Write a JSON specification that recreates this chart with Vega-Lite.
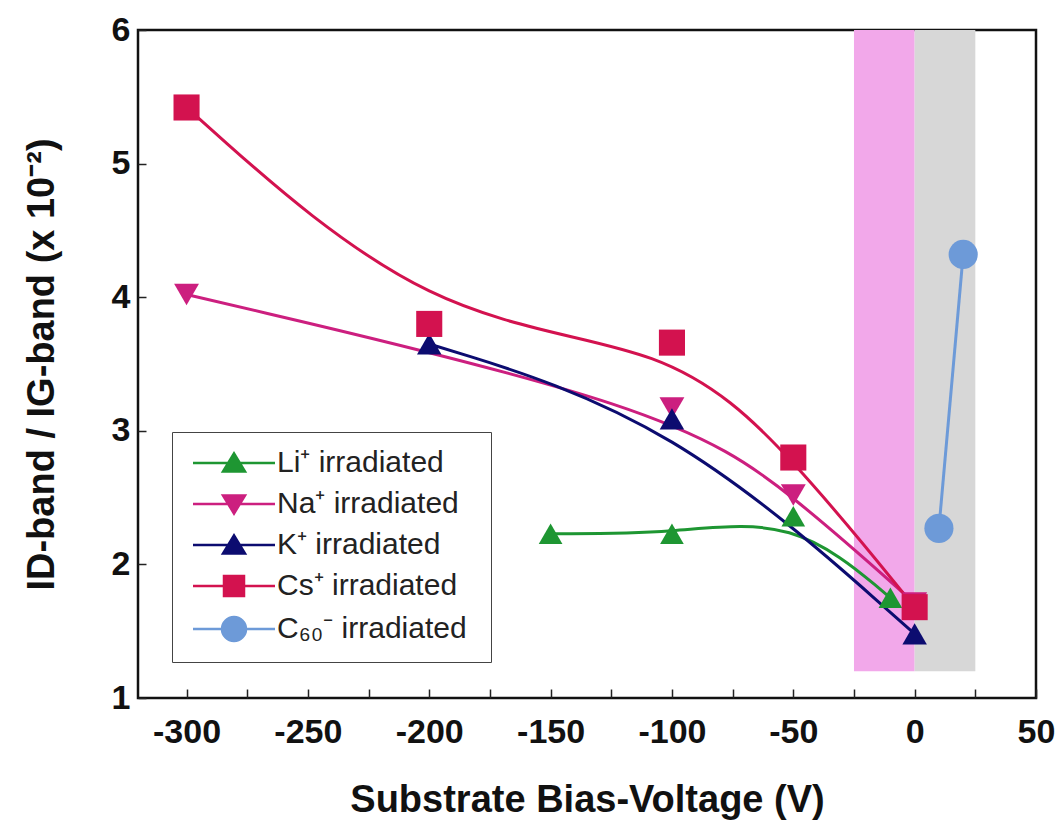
{
  "$schema": "https://vega.github.io/schema/vega-lite/v6.json",
  "width": 898,
  "height": 668,
  "autosize": {"type": "none"},
  "padding": {"left": 138, "top": 30, "right": 23, "bottom": 125},
  "background": "#ffffff",
  "config": {
    "view": {"stroke": "#111111", "strokeWidth": 2.5},
    "font": "Liberation Sans"
  },
  "datasets": {
    "points": [
      {"series": "Li", "v": -150, "r": 2.23},
      {"series": "Li", "v": -100, "r": 2.23},
      {"series": "Li", "v": -50, "r": 2.36},
      {"series": "Li", "v": -10, "r": 1.75},
      {"series": "Na", "v": -300, "r": 4.02},
      {"series": "Na", "v": -100, "r": 3.17},
      {"series": "Na", "v": -50, "r": 2.52},
      {"series": "Na", "v": 0, "r": 1.71},
      {"series": "K", "v": -200, "r": 3.65},
      {"series": "K", "v": -100, "r": 3.09},
      {"series": "K", "v": 0, "r": 1.48},
      {"series": "Cs", "v": -300, "r": 5.42},
      {"series": "Cs", "v": -200, "r": 3.8},
      {"series": "Cs", "v": -100, "r": 3.66},
      {"series": "Cs", "v": -50, "r": 2.8},
      {"series": "Cs", "v": 0, "r": 1.68},
      {"series": "C60", "v": 10, "r": 2.27},
      {"series": "C60", "v": 20, "r": 4.32}
    ],
    "bands": [
      {"band": "pink", "v0": -25, "v1": 0, "r0": 1.2, "r1": 6},
      {"band": "gray", "v0": 0, "v1": 25, "r0": 1.2, "r1": 6}
    ]
  },
  "encoding": {
    "x": {
      "field": "v", "type": "quantitative", "title": "Substrate Bias-Voltage (V)",
      "scale": {"domain": [-320, 50], "nice": false, "zero": false},
      "axis": {
        "values": [-300, -275, -250, -225, -200, -175, -150, -125, -100, -75, -50, -25, 0, 25, 50],
        "labelExpr": "datum.value % 50 === 0 ? toString(datum.value) : ''",
        "grid": false, "domain": false, "tickSize": -9, "tickWidth": 1.5, "tickColor": "#222",
        "labelFontSize": 34, "labelFontWeight": "bold", "labelColor": "#111", "labelPadding": 26,
        "labelFont": "Liberation Sans", "labelFlush": false, "labelOverlap": false,
        "titleFontSize": 38, "titleFontWeight": "bold", "titleColor": "#111", "titleFont": "Liberation Sans",
        "titleY": 102, "titleBaseline": "middle"
      }
    },
    "y": {
      "field": "r", "type": "quantitative", "title": "ID-band / IG-band (x 10⁻²)",
      "scale": {"domain": [1, 6], "nice": false, "zero": false},
      "axis": {
        "values": [1, 2, 3, 4, 5, 6],
        "grid": false, "domain": false, "tickSize": -8, "tickWidth": 1.5, "tickColor": "#222",
        "labelFontSize": 34, "labelFontWeight": "bold", "labelColor": "#111", "labelPadding": 16,
        "labelFont": "Liberation Sans", "labelFlush": false, "labelOverlap": false,
        "titleFontSize": 38, "titleFontWeight": "bold", "titleColor": "#111", "titleFont": "Liberation Sans",
        "titleX": -96, "titleBaseline": "middle"
      }
    }
  },
  "layer": [
    {
      "data": {"name": "bands"},
      "mark": {"type": "rect"},
      "encoding": {
        "x": {"field": "v0", "type": "quantitative", "title": "Substrate Bias-Voltage (V)"},
        "x2": {"field": "v1"},
        "y": {"field": "r0", "type": "quantitative", "title": "ID-band / IG-band (x 10⁻²)"},
        "y2": {"field": "r1"},
        "color": {"field": "band", "type": "nominal", "scale": {"domain": ["Li", "Na", "K", "Cs", "C60", "pink", "gray"], "range": ["#1e9632", "#cc1f7f", "#0c0c70", "#d3124f", "#6d9ad8", "#f2a8ea", "#d7d7d7"]}, "legend": null}
      }
    },
    {
      "data": {"name": "points"},
      "mark": {"type": "line", "interpolate": "basis", "strokeWidth": 3},
      "encoding": {
        "color": {"field": "series", "type": "nominal", "scale": {"domain": ["Li", "Na", "K", "Cs", "C60", "pink", "gray"], "range": ["#1e9632", "#cc1f7f", "#0c0c70", "#d3124f", "#6d9ad8", "#f2a8ea", "#d7d7d7"]}, "legend": null},
        "detail": {"field": "series"}
      }
    },
    {
      "data": {"name": "points"},
      "transform": [{"filter": "datum.series === 'Li'"}],
      "mark": {"type": "point", "shape": "triangle-up", "filled": true, "opacity": 1, "size": 560},
      "encoding": {"color": {"field": "series", "type": "nominal", "legend": null}}
    },
    {
      "data": {"name": "points"},
      "transform": [{"filter": "datum.series === 'Na'"}],
      "mark": {"type": "point", "shape": "triangle-down", "filled": true, "opacity": 1, "size": 620},
      "encoding": {"color": {"field": "series", "type": "nominal", "legend": null}}
    },
    {
      "data": {"name": "points"},
      "transform": [{"filter": "datum.series === 'K'"}],
      "mark": {"type": "point", "shape": "triangle-up", "filled": true, "opacity": 1, "size": 600},
      "encoding": {"color": {"field": "series", "type": "nominal", "legend": null}}
    },
    {
      "data": {"name": "points"},
      "transform": [{"filter": "datum.series === 'Cs'"}],
      "mark": {"type": "point", "shape": "square", "filled": true, "opacity": 1, "size": 680},
      "encoding": {"color": {"field": "series", "type": "nominal", "legend": null}}
    },
    {
      "data": {"name": "points"},
      "transform": [{"filter": "datum.series === 'C60'"}],
      "mark": {"type": "point", "shape": "circle", "filled": true, "opacity": 1, "size": 850},
      "encoding": {"color": {"field": "series", "type": "nominal", "legend": null}}
    },
    {
      "data": {"name": "points"},
      "mark": {"type": "point", "filled": true, "opacity": 0, "size": 400},
      "encoding": {
        "fill": {
          "field": "series", "type": "nominal", "title": null,
          "scale": {"domain": ["Li", "Na", "K", "Cs", "C60"], "range": ["#1e9632", "#cc1f7f", "#0c0c70", "#d3124f", "#6d9ad8"]},
          "legend": {
            "orient": "none", "legendX": 34, "legendY": 402, "direction": "vertical",
            "padding": 16, "strokeColor": "#444", "fillColor": "#ffffff",
            "symbolSize": 400, "symbolStrokeWidth": 2.5, "symbolOpacity": 1,
            "symbolOffset": 31, "labelOffset": 28, "labelLimit": 400,
            "labelFontSize": 30, "labelFont": "Liberation Sans", "labelColor": "#222",
            "rowPadding": 11,
            "labelExpr": "{'Li': 'Li⁺ irradiated', 'Na': 'Na⁺  irradiated', 'K': 'K⁺ irradiated', 'Cs': 'Cs⁺  irradiated', 'C60': 'C₆₀⁻  irradiated'}[datum.label]"
          }
        },
        "stroke": {
          "field": "series", "type": "nominal", "title": null,
          "scale": {"domain": ["Li", "Na", "K", "Cs", "C60"], "range": ["#1e9632", "#cc1f7f", "#0c0c70", "#d3124f", "#6d9ad8"]}
        },
        "shape": {
          "field": "series", "type": "nominal", "title": null,
          "scale": {"domain": ["Li", "Na", "K", "Cs", "C60"], "range": [
            "M-4.1,0H4.1M0,-0.95L1.1,0.85H-1.1ZM-0.06,-0.85H0.06M-0.18,-0.65H0.18M-0.31,-0.45H0.31M-0.43,-0.25H0.43M-0.55,-0.05H0.55M-0.67,0.15H0.67M-0.79,0.35H0.79M-0.92,0.55H0.92M-1.04,0.75H1.04",
            "M-4.1,0H4.1M-1.1,-0.85H1.1L0,0.95ZM-0.06,0.85H0.06M-0.18,0.65H0.18M-0.31,0.45H0.31M-0.43,0.25H0.43M-0.55,0.05H0.55M-0.67,-0.15H0.67M-0.79,-0.35H0.79M-0.92,-0.55H0.92M-1.04,-0.75H1.04",
            "M-4.1,0H4.1M0,-0.95L1.1,0.85H-1.1ZM-0.06,-0.85H0.06M-0.18,-0.65H0.18M-0.31,-0.45H0.31M-0.43,-0.25H0.43M-0.55,-0.05H0.55M-0.67,0.15H0.67M-0.79,0.35H0.79M-0.92,0.55H0.92M-1.04,0.75H1.04",
            "M-4.1,0H4.1M-1,-1H1V1H-1ZM-1,-0.8H1M-1,-0.6H1M-1,-0.4H1M-1,-0.2H1M-1,0.2H1M-1,0.4H1M-1,0.6H1M-1,0.8H1",
            "M-4.1,0H4.1M-1.2,0A1.2,1.2,0,1,0,1.2,0A1.2,1.2,0,1,0,-1.2,0ZM-0.66,-1H0.66M-0.89,-0.8H0.89M-1.04,-0.6H1.04M-1.13,-0.4H1.13M-1.18,-0.2H1.18M-1.18,0.2H1.18M-1.13,0.4H1.13M-1.04,0.6H1.04M-0.89,0.8H0.89M-0.66,1H0.66"
          ]}
        }
      }
    }
  ]
}
